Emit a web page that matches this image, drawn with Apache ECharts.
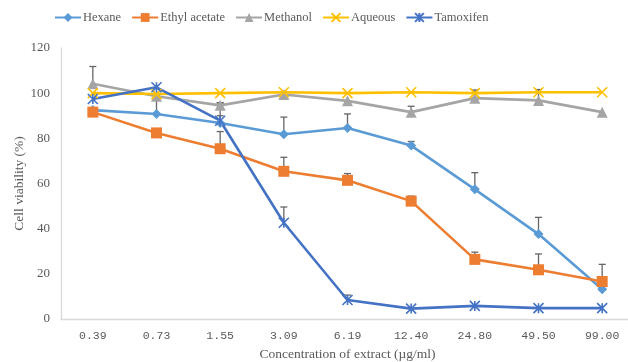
<!DOCTYPE html>
<html>
<head>
<meta charset="utf-8">
<script src="https://cdn.jsdelivr.net/npm/echarts@6/dist/echarts.min.js"></script>
<style>html,body{margin:0;padding:0;background:#fff}#c{width:628px;height:362px}</style>
</head>
<body>
<div id="c"></div>
<script>
const categories = ['0.39','0.73','1.55','3.09','6.19','12.40','24.80','49.50','99.00'];
const hexane      = [92.5, 90.8, 86.8, 81.8, 84.6, 76.8, 57.4, 37.6, 13.2];
const ethylAcetate= [91.6, 82.4, 75.4, 65.4, 61.4, 52.2, 26.4, 21.8, 16.6];
const methanol    = [104.2, 98.6, 94.6, 99.4, 96.6, 91.6, 97.8, 96.8, 91.6];
const aqueous     = [100.0, 99.6, 100.0, 100.4, 100.0, 100.4, 100.0, 100.4, 100.4];
const tamoxifen   = [97.4, 102.6, 87.8, 42.6, 8.4, 4.6, 5.8, 4.8, 4.8];
const hexaneErr   = [null, 8, 9, 7.6, 6.2, 1.8, 7.4, 7.4, null];
const ethylErr    = [null, null, 7.6, 6.2, 3.0, 2.2, 3.2, 7.0, 7.6];
const methanolErr = [7.6, null, 1, 1, null, 2.6, 3.6, 4.8, null];
const aqueousErr  = [null, null, null, null, null, null, null, null, null];
const tamoxifenErr= [null, null, 2.2, 7.0, 2.2, null, null, null, null];

const names = ['Hexane','Ethyl acetate','Methanol','Aqueous','Tamoxifen'];
const values = [hexane, ethylAcetate, methanol, aqueous, tamoxifen];
const errs = [hexaneErr, ethylErr, methanolErr, aqueousErr, tamoxifenErr];
const colors = ['#5B9BD5','#ED7D31','#A5A5A5','#FFC000','#4472C4'];
const symbols = ['diamond','rect','triangle','path://M0,0L10,10M10,0L0,10','path://M0,0L10,10M10,0L0,10M5,0L5,10'];
const symSizes = [10, 11, 11, 10, 10];
const strokeSym = [false,false,false,true,true];

const series = [];
names.forEach((n,i)=>{
  series.push({
    name: n, type: 'line', data: values[i], z: 3,
    symbol: symbols[i], symbolSize: symSizes[i],
    lineStyle: {color: colors[i], width: 2.6},
    itemStyle: strokeSym[i] ? {color: 'rgba(0,0,0,0)', borderColor: colors[i], borderWidth: 1.6} : {color: colors[i], borderWidth: 0},
    emphasis: {disabled: true},
    animation: false
  });
});
names.forEach((n,i)=>{
  const d = [];
  values[i].forEach((v,k)=>{ if (errs[i][k] != null) d.push([k, v, errs[i][k]]); });
  series.push({
    type: 'custom', z: 2, silent: true, animation: false,
    encode: {x: 0, y: 1},
    data: d,
    renderItem: function(params, api){
      const p = api.coord([api.value(0), api.value(1)]);
      const t = api.coord([api.value(0), api.value(1) + api.value(2)]);
      const st = {stroke: '#666666', lineWidth: 1.3};
      return {type: 'group', children: [
        {type:'line', shape:{x1:p[0], y1:p[1], x2:t[0], y2:t[1]}, style: st},
        {type:'line', shape:{x1:t[0]-3.5, y1:t[1], x2:t[0]+3.5, y2:t[1]}, style: st}
      ]};
    }
  });
});

const chart = echarts.init(document.getElementById('c'));
chart.setOption({
  animation: false,
  color: colors,
  legend: {
    data: names, top: 6, left: 49, itemWidth: 26, itemHeight: 11, itemGap: 10,
    textStyle: {fontFamily: 'Liberation Serif', fontSize: 12.5, color: '#595959', padding: [0,0,0,-3]}
  },
  grid: {left: 61, right: -6, top: 48, bottom: 43, outerBoundsMode: 'none', containLabel: false},
  xAxis: {
    type: 'category', data: categories, boundaryGap: true,
    name: 'Concentration of extract (µg/ml)', nameLocation: 'middle', nameGap: 28,
    nameMoveOverlap: false,
    nameTextStyle: {fontFamily: 'Liberation Serif', fontSize: 13.5, color: '#595959'},
    axisLine: {lineStyle: {color: '#D9D9D9', width: 1.3}},
    axisTick: {show: false},
    axisLabel: {fontFamily: 'Liberation Mono', fontSize: 11.5, color: '#595959', margin: 11}
  },
  yAxis: {
    type: 'value', min: 0, max: 120, interval: 20,
    name: 'Cell viability (%)', nameLocation: 'middle', nameGap: 35, nameRotate: 90,
    nameMoveOverlap: false,
    nameTextStyle: {fontFamily: 'Liberation Serif', fontSize: 13.5, color: '#595959'},
    axisLine: {show: true, lineStyle: {color: '#D9D9D9', width: 1.3}},
    axisTick: {show: false},
    splitLine: {show: false},
    axisLabel: {fontFamily: 'Liberation Serif', fontSize: 13, color: '#595959', margin: 11}
  },
  series: series
});
</script>
</body>
</html>
